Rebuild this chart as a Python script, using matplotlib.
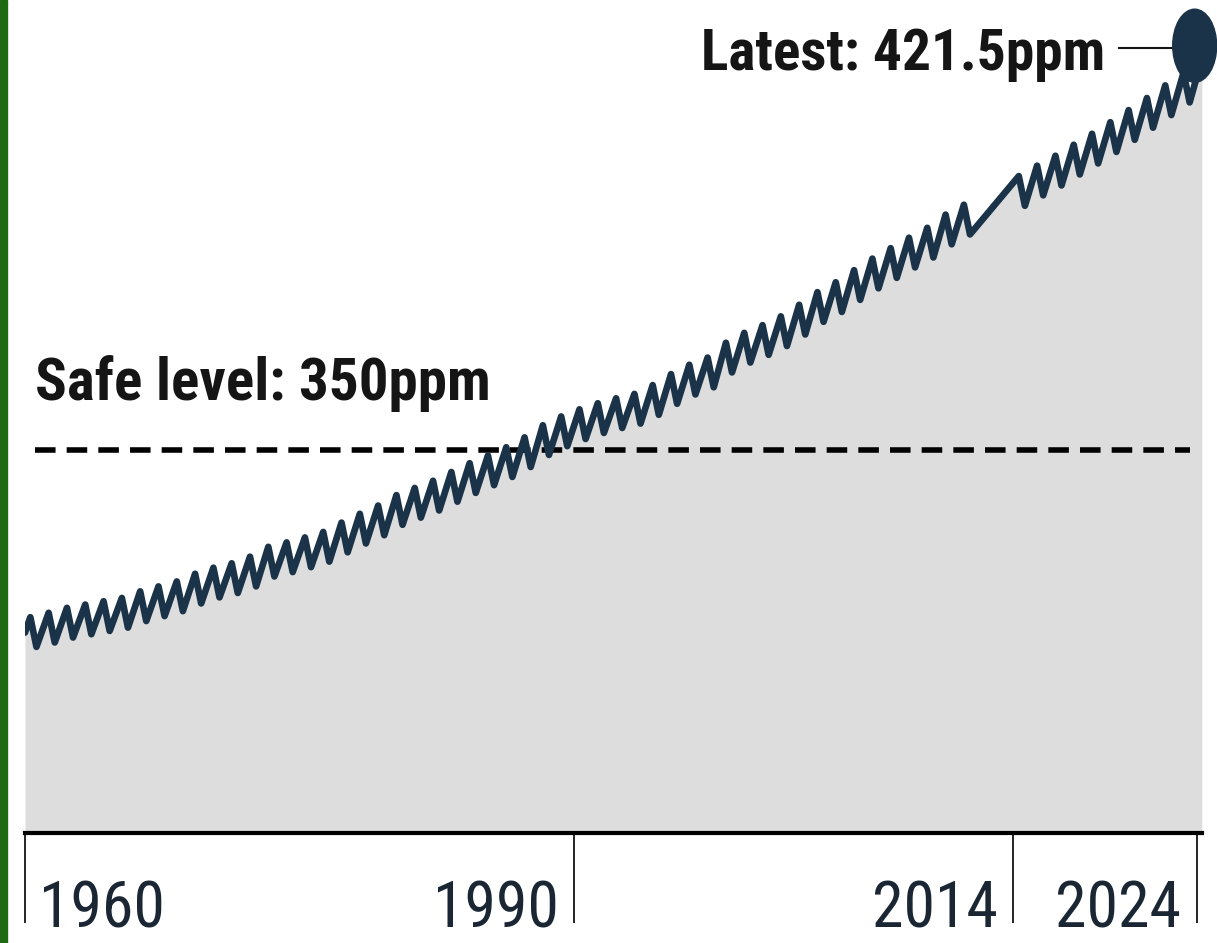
import matplotlib
matplotlib.use("Agg")
import matplotlib.pyplot as plt
import matplotlib.transforms as mtransforms
import matplotlib.font_manager as fm
from matplotlib.patches import Ellipse, Rectangle

# Mauna Loa style CO2 record (ppm)
start_year = 1960.0
start_ppm = 316.8

years = list(range(1960, 2012)) + list(range(2014, 2025))
peaks = [
    319.6, 320.4, 321.3, 321.9, 322.5, 323.1, 324.3, 325.2, 326.1, 327.5,
    328.6, 329.4, 330.6, 332.4, 333.2, 334.1, 335.1, 336.8, 338.4, 339.9,
    341.8, 343.1, 344.4, 346.0, 347.6, 349.0, 350.5, 352.3, 354.5, 356.1,
    357.4, 358.5, 359.4, 360.2, 361.8, 363.8, 365.5, 366.8, 369.5, 371.3,
    372.7, 374.3, 376.4, 378.7, 380.5, 382.7, 384.8, 386.7, 388.6, 390.4,
    392.8, 394.6,
    399.8, 401.7, 403.5, 405.5, 407.5, 409.6, 411.8, 414.0, 416.3, 418.6,
    421.1,
]
troughs = [
    314.2, 315.0, 315.9, 316.5, 317.1, 317.7, 318.9, 319.8, 320.7, 322.1,
    323.2, 324.0, 325.2, 327.0, 327.8, 328.7, 329.7, 331.4, 333.0, 334.5,
    336.4, 337.7, 339.0, 340.6, 342.2, 343.6, 345.1, 346.9, 349.1, 350.7,
    352.0, 353.1, 354.0, 354.8, 356.4, 358.4, 360.1, 361.4, 364.1, 365.9,
    367.3, 368.9, 371.0, 373.3, 375.1, 377.3, 379.4, 381.3, 383.2, 385.0,
    387.4, 389.2,
    394.4, 396.3, 398.1, 400.1, 402.1, 404.2, 406.4, 408.6, 410.9, 413.2,
    None,
]
peak_month = 4      # spring high
trough_month = 8    # late-summer low

safe_level = 350
safe_label = "Safe level: 350ppm"
latest_label = "Latest: 421.5ppm"
dot_year = 2023.9
dot_ppm = 423.5

tick_years = [1960, 1990, 2014, 2024]
tick_labels = ["1960", "1990", "2014", "2024"]

# build the seasonal zig-zag
t = [start_year]
v = [start_ppm]
for yr, pk, tr in zip(years, peaks, troughs):
    t.append(yr + (peak_month - 0.5) / 12)
    v.append(pk)
    if tr is not None:
        t.append(yr + (trough_month - 0.5) / 12)
        v.append(tr)


# pick a condensed face if one is installed
def find_face(bold):
    prefs = ["Roboto Condensed", "Liberation Sans Narrow", "Open Sans Condensed",
             "Noto Sans Condensed", "DejaVu Sans Condensed"]
    cands = []
    for f in fm.fontManager.ttflist:
        st = f.stretch
        narrow = ("Condensed" in f.name or "Narrow" in f.name
                  or "ondensed" in str(st) or "arrow" in f.fname
                  or "ondensed" in f.fname)
        if not narrow:
            continue
        w = f.weight if isinstance(f.weight, int) else (700 if "bold" in str(f.weight) else 400)
        if bold and w < 600:
            continue
        if not bold and (w >= 600 or w < 300):
            continue
        if "talic" in f.fname or f.style != "normal":
            continue
        rank = len(prefs)
        for i, p in enumerate(prefs):
            if f.name.startswith(p.split()[0]) and (p.split()[-1] in f.name or p.split()[-1] in f.fname):
                rank = i
                break
        cands.append((rank, abs(w - (700 if bold else 400)), f.fname))
    if cands:
        cands.sort()
        return fm.FontProperties(fname=cands[0][2])
    return fm.FontProperties(family=["Roboto", "DejaVu Sans"],
                             weight="bold" if bold else "normal")


bold_fp = find_face(True)
reg_fp = find_face(False)

line_col = "#1b3348"
text_col = "#151515"

W, H = 1217, 943
fig = plt.figure(figsize=(W / 100, H / 100), dpi=100)
ax = fig.add_axes([25 / W, (H - 833) / H, (1202 - 25) / W, 833 / H])

ylo, yhi = 280.36, 431.82
ax.fill_between(t, v, ylo, color="#dddddd", lw=0, zorder=1)
ax.hlines(safe_level, 1960.55, 2023.66, colors="black", lw=4.0,
          linestyles=(0, (3.7, 2.0)), zorder=2)
ax.plot(t, v, color=line_col, lw=4.8, solid_joinstyle="round",
        solid_capstyle="round", zorder=3)

# latest marker + leader
ax.plot([2019.75, dot_year], [dot_ppm - 0.4, dot_ppm - 0.4], color=text_col,
        lw=1.5, zorder=4, clip_on=False)
ax.add_patch(Ellipse((dot_year, dot_ppm), 2.4, 13.3, color=line_col,
                     zorder=5, clip_on=False))
t_latest = ax.text(2019.0, 419.1, latest_label, ha="right", va="baseline",
                   fontproperties=bold_fp, color=text_col)
t_safe = ax.text(1960.55, 359.1, safe_label, ha="left", va="baseline",
                 fontproperties=bold_fp, color=text_col)

ax.set_xlim(1960, 2024.3)
ax.set_ylim(ylo, yhi)
for s in ["top", "left", "right"]:
    ax.spines[s].set_visible(False)
ax.spines["bottom"].set_linewidth(3)
ax.spines["bottom"].set_color("black")
ax.set_yticks([])
ax.set_xticks(tick_years)
ax.set_xticklabels([])
ax.tick_params(axis="x", direction="out", length=65, width=1.2, color="black")

# year labels sit beside their tick lines
xtrans = ax.get_xaxis_transform()
label_y = -(927 - 833) / 833
year_texts = []
for yr, lab in zip(tick_years, tick_labels):
    if yr == tick_years[0]:
        tr = mtransforms.offset_copy(xtrans, fig, x=10, units="points")
        ha = "left"
    else:
        tr = mtransforms.offset_copy(xtrans, fig, x=-11, units="points")
        ha = "right"
    year_texts.append(ax.text(yr, label_y, lab, transform=tr, ha=ha,
                              va="baseline", fontproperties=reg_fp.copy(),
                              color="#1a2633", clip_on=False))

# size the texts to the widths they take in the reference (px)
fig.canvas.draw()
rend = fig.canvas.get_renderer()


def fit(txt, width_px, max_pt):
    txt.set_fontsize(40)
    w = txt.get_window_extent(rend).width
    txt.set_fontsize(min(40 * width_px / w, max_pt))


fit(t_latest, 404, 55)
fit(t_safe, 455, 55)
fit(year_texts[0], 126, 62)
for yt in year_texts[1:]:
    yt.set_fontsize(year_texts[0].get_fontsize())

# green edge strip on the left
fig.patches.append(Rectangle((0, 0), 7 / W, 1, transform=fig.transFigure,
                             color="#1e6a12", zorder=10))

fig.savefig("out.png", dpi=100)
